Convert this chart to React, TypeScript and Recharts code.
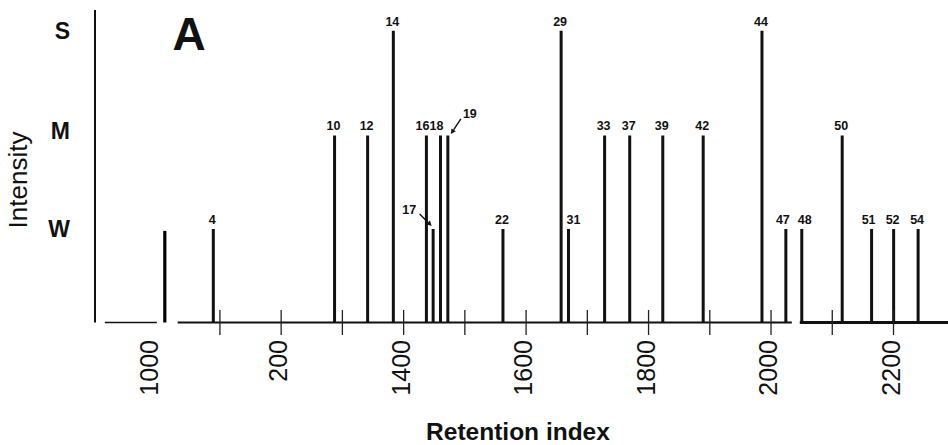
import React from 'react';
import {
  ComposedChart,
  Bar,
  XAxis,
  YAxis,
  LabelList,
  ReferenceLine,
} from 'recharts';

// peak numbers, retention indices and intensity (W = 1, M = 2, S = 3.12)
const peakIds = ['4', '10', '12', '14', '16', '17', '18', '19', '22', '29', '31', '33', '37', '39', '42', '44', '47', '48', '50', '51', '52', '54'];
const retentionIndex = [1089, 1287, 1341, 1383, 1437, 1448, 1460, 1472, 1562, 1657, 1669, 1728, 1769, 1823, 1889, 1985, 2024, 2050, 2116, 2164, 2200, 2240];
const intensity = [1, 2, 2, 3.12, 2, 1, 2, 2, 1, 3.12, 1, 2, 2, 2, 2, 3.12, 1, 1, 2, 1, 1, 1];

const intensityTicks = [1, 2, 3.12];
const intensityLabels = ['W', 'M', 'S'];

const xTicks = [1000, 1100, 1200, 1300, 1400, 1500, 1600, 1700, 1800, 1900, 2000, 2100, 2200];
const xTickLabels: Record<number, string> = {
  1000: '1000',
  1200: '200',
  1400: '1400',
  1600: '1600',
  1800: '1800',
  2000: '2000',
  2200: '2200',
};

// broken baseline pieces of the original plot
const baselinePieces = [
  { from: 912, to: 997, width: 1.6 },
  { from: 1031, to: 2034, width: 1.8 },
  { from: 2047, to: 2289, width: 3 },
];
const breakMark = { ri: 1010, height: 0.98 };

const data = peakIds.map((id, i) => ({
  id,
  ri: retentionIndex[i],
  intensity: intensity[i],
}));

const FONT = '"Liberation Sans", Arial, Helvetica, sans-serif';

// labels that sit off their peak, some with an arrow
const callouts: Record<string, { dx: number; dy: number; arrow?: number[] }> = {
  '16': { dx: -4, dy: -5 },
  '18': { dx: -4, dy: -5 },
  '31': { dx: 5, dy: -5 },
  '47': { dx: -3, dy: -5 },
  '48': { dx: 3, dy: -5 },
  '51': { dx: -3, dy: -5 },
  '17': { dx: -24, dy: -15, arrow: [-13.5, -15, -1.5, -3] },
  '19': { dx: 22, dy: -17, arrow: [13, -16.5, 3, -1.5] },
};

function Arrow({ x1, y1, x2, y2 }: { x1: number; y1: number; x2: number; y2: number }) {
  const ang = Math.atan2(y2 - y1, x2 - x1);
  const len = 5;
  const w = 2.6;
  const bx = x2 - len * Math.cos(ang);
  const by = y2 - len * Math.sin(ang);
  const px = -Math.sin(ang) * w;
  const py = Math.cos(ang) * w;
  return (
    <g>
      <line x1={x1} y1={y1} x2={bx} y2={by} stroke="#111" strokeWidth={1.4} />
      <polygon points={`${x2},${y2} ${bx + px},${by + py} ${bx - px},${by - py}`} fill="#111" />
    </g>
  );
}

function PeakLabel(props: any) {
  const { x, y, width, value } = props;
  const cx = x + width / 2;
  const c = callouts[value] || { dx: -1, dy: -5 };
  return (
    <g>
      <text
        x={cx + c.dx}
        y={y + c.dy}
        textAnchor="middle"
        fontFamily={FONT}
        fontWeight="bold"
        fontSize={12.5}
        fill="#111"
      >
        {value}
      </text>
      {c.arrow && (
        <Arrow x1={cx + c.arrow[0]} y1={y + c.arrow[1]} x2={cx + c.arrow[2]} y2={y + c.arrow[3]} />
      )}
    </g>
  );
}

function XTick(props: any) {
  const { x, y, payload } = props;
  const v = payload.value;
  const label = xTickLabels[v];
  // the 1000 label sits left of its place in the scanned original
  const shift = v === 1000 ? -1 : 6;
  return (
    <g>
      {v !== 1000 && (
        <line x1={x} y1={y - 12.5} x2={x} y2={y + 12.5} stroke="#222" strokeWidth={1.3} />
      )}
      {label && (
        <text
          transform={`translate(${x + shift}, ${y + 17.5}) rotate(-90)`}
          textAnchor="end"
          fontFamily={FONT}
          fontSize={25}
          fill="#111"
        >
          {label}
        </text>
      )}
    </g>
  );
}

function YTick(props: any) {
  const { x, y, payload } = props;
  const idx = intensityTicks.indexOf(payload.value);
  return (
    <text
      x={x}
      y={y + (idx === 1 ? 4 : 8)}
      textAnchor="end"
      fontFamily={FONT}
      fontWeight="bold"
      fontSize={23}
      fill="#111"
    >
      {intensityLabels[idx]}
    </text>
  );
}

export default function App() {
  return (
    <div style={{ position: 'absolute', left: 0, top: 0, width: 948, height: 445, background: '#fff' }}>
      <ComposedChart
        width={948}
        height={445}
        data={data}
        margin={{ top: 10, right: 0, left: 0, bottom: 0 }}
      >
        <XAxis
          dataKey="ri"
          type="number"
          domain={[896, 2289]}
          ticks={xTicks}
          allowDataOverflow
          axisLine={false}
          tickLine={false}
          tickSize={0}
          tickMargin={0}
          height={122.5}
          tick={<XTick />}
          interval={0}
        />
        <YAxis
          type="number"
          domain={[0, 3.342]}
          ticks={intensityTicks}
          allowDataOverflow
          width={95}
          axisLine={{ stroke: '#111', strokeWidth: 2 }}
          tickLine={false}
          tickSize={0}
          tickMargin={25}
          tick={<YTick />}
          interval={0}
        />
        {baselinePieces.map((p, i) => (
          <ReferenceLine
            key={i}
            segment={[{ x: p.from, y: 0 }, { x: p.to, y: 0 }]}
            stroke="#111"
            strokeWidth={p.width}
            ifOverflow="visible"
          />
        ))}
        <ReferenceLine
          segment={[{ x: breakMark.ri, y: 0 }, { x: breakMark.ri, y: breakMark.height }]}
          stroke="#000"
          strokeWidth={3.2}
          ifOverflow="visible"
        />
        <Bar dataKey="intensity" fill="#111" barSize={3} isAnimationActive={false}>
          <LabelList dataKey="id" content={<PeakLabel />} />
        </Bar>
      </ComposedChart>
      <svg
        width={948}
        height={445}
        style={{ position: 'absolute', left: 0, top: 0, pointerEvents: 'none' }}
      >
        <text x={189} y={50} textAnchor="middle" fontFamily={FONT} fontWeight="bold" fontSize={46} fill="#111">
          A
        </text>
        <text
          transform="translate(27, 180) rotate(-90)"
          textAnchor="middle"
          fontFamily={FONT}
          fontSize={26}
          fill="#111"
        >
          Intensity
        </text>
        <text x={518} y={440} textAnchor="middle" fontFamily={FONT} fontWeight="bold" fontSize={24.5} fill="#111">
          Retention index
        </text>
      </svg>
    </div>
  );
}
